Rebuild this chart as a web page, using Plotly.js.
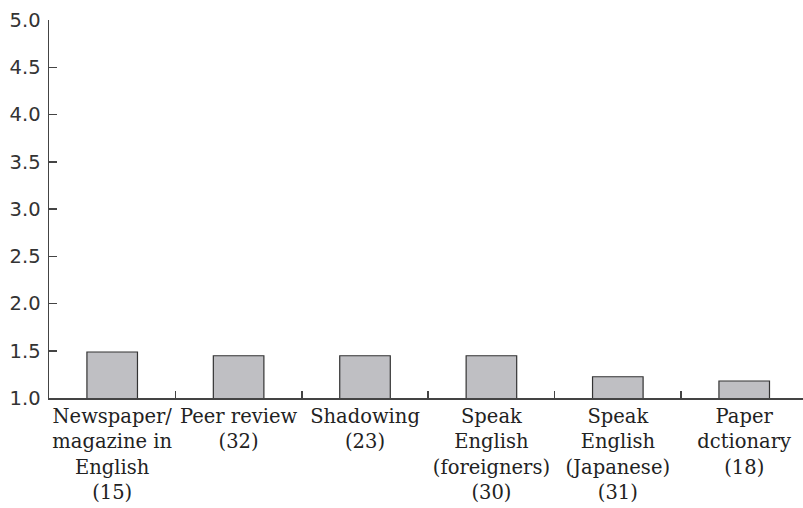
<!DOCTYPE html>
<html>
<head>
<meta charset="utf-8">
<script src="https://cdn.plot.ly/plotly-3.0.1.min.js"></script>
<style>html,body{margin:0;padding:0;background:#fff;}#chart{width:803px;height:508px;}</style>
</head>
<body>
<div id="chart"></div>
<script>
var categories = ["Newspaper/<br>magazine in<br>English<br>(15)", "Peer review<br>(32)", "Shadowing<br>(23)", "Speak<br>English<br>(foreigners)<br>(30)", "Speak<br>English<br>(Japanese)<br>(31)", "Paper<br>dctionary<br>(18)"];
var values = [1.487, 1.447, 1.447, 1.447, 1.225, 1.18];
var yTicks = [1.0, 1.5, 2.0, 2.5, 3.0, 3.5, 4.0, 4.5, 5.0];
var yTickText = ["1.0", "1.5", "2.0", "2.5", "3.0", "3.5", "4.0", "4.5", "5.0"];

var idx = categories.map(function(c, i){ return i; });
var dividers = idx.slice(0, -1).map(function(i){ return i + 0.5; });

var trace = {
  type: 'bar',
  x: idx,
  y: values,
  width: 0.4,
  marker: {color: '#bfbfc3', line: {color: '#333333', width: 1.2}},
  hoverinfo: 'none'
};
var ghost = {type: 'scatter', x: [0], y: [1], xaxis: 'x2', mode: 'markers', marker: {opacity: 0}, hoverinfo: 'none', showlegend: false};

var xr = [-0.5, 5.465];
var layout = {
  width: 803, height: 508,
  margin: {l: 49, r: 0, t: 20, b: 110},
  paper_bgcolor: '#ffffff', plot_bgcolor: '#ffffff',
  showlegend: false,
  xaxis: {
    range: xr, tickmode: 'array', tickvals: idx, ticktext: categories,
    ticks: '', showline: true, linecolor: '#444', linewidth: 1.5,
    showgrid: false, zeroline: false, tickangle: 0,
    ticklabelstandoff: 0,
    tickfont: {family: 'DejaVu Serif', size: 19.5, color: '#222'}
  },
  xaxis2: {
    range: xr, overlaying: 'x', anchor: 'y', side: 'bottom',
    tickmode: 'array', tickvals: dividers, ticks: 'inside', ticklen: 7, tickwidth: 1.5, tickcolor: '#444',
    showticklabels: false, showgrid: false, zeroline: false, showline: false
  },
  yaxis: {
    range: [1, 5], tickmode: 'array', tickvals: yTicks, ticktext: yTickText,
    ticks: 'inside', ticklen: 8, tickwidth: 1.5, tickcolor: '#444',
    showline: true, linecolor: '#444', linewidth: 1.5,
    showgrid: false, zeroline: false,
    ticklabelstandoff: 3,
    tickfont: {family: 'DejaVu Sans', size: 19.5, color: '#333'}
  }
};
Plotly.newPlot('chart', [trace, ghost], layout, {staticPlot: true, displayModeBar: false});
</script>
</body>
</html>
